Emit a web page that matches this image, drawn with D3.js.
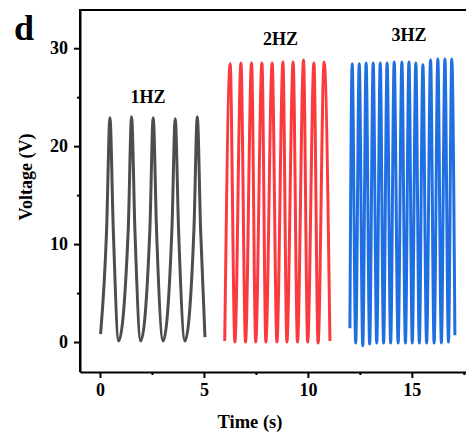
<!DOCTYPE html>
<html>
<head>
<meta charset="utf-8">
<script src="https://cdn.jsdelivr.net/npm/d3@7"></script>
<style>
  html, body { margin: 0; padding: 0; background: #fff; }
  svg { display: block; }
  text { font-family: "Liberation Serif", "Times New Roman", serif; font-weight: bold; fill: #000; }
</style>
</head>
<body>
<svg id="chart" width="466" height="437"></svg>
<script>
// points: extrema plus mid-height crossings (time in s, voltage in V)
const t1 = [0.03, 0.32, 0.48, 0.64, 0.90, 1.36, 1.52, 1.68, 1.96, 2.40, 2.56, 2.72, 3.04, 3.46, 3.62, 3.78, 4.09, 4.52, 4.68, 4.84, 5.05];
const v1 = [0.8, 11.5, 22.9, 11.5, 0.1, 11.5, 23.0, 11.5, 0.1, 11.5, 22.9, 11.5, 0.1, 11.5, 22.8, 11.5, 0.1, 11.5, 23.0, 11.5, 0.5];

const t2 = [6.0, 6.26, 6.49, 6.78, 7.0, 7.29, 7.49, 7.79, 7.98, 8.28, 8.51, 8.80, 8.99, 9.29, 9.50, 9.79, 9.99, 10.29, 10.49, 10.78, 11.06];
const v2 = [0.1, 28.4, 0.0, 28.5, 0.0, 28.5, 0.0, 28.5, 0.0, 28.5, 0.0, 28.6, 0.0, 28.6, 0.0, 28.8, 0.0, 28.5, -0.1, 28.6, 0.1];

const t3 = [12.02, 12.13, 12.30, 12.47, 12.64, 12.80, 12.97, 13.14, 13.31, 13.48, 13.64, 13.81, 13.98, 14.15, 14.34,
            14.52, 14.69, 14.86, 15.02, 15.19, 15.36, 15.53, 15.71, 15.90, 16.07, 16.25, 16.42, 16.59, 16.76, 16.92, 17.07];
const v3 = [1.4, 28.4, -0.1, 28.4, -0.4, 28.5, -0.2, 28.5, -0.1, 28.5, -0.1, 28.5, -0.1, 28.6, -0.1,
            28.6, -0.1, 28.6, -0.1, 28.5, -0.1, 28.3, -0.1, 28.8, -0.1, 28.9, -0.1, 28.9, 0.0, 28.9, 0.7];

const series = [
  {name: '1HZ', t: t1, v: v1, color: '#4d4d4d', labelT: 2.31, labelV: 24.4},
  {name: '2HZ', t: t2, v: v2, color: '#fb3a3e', labelT: 8.68, labelV: 30.3},
  {name: '3HZ', t: t3, v: v3, color: '#1f6fe3', labelT: 14.86, labelV: 30.7}
];

const xTicks = [0, 5, 10, 15];
const xMinor = [2.5, 7.5, 12.5, 17.5];
const yTicks = [0, 10, 20, 30];
const yMinor = [5, 15, 25];

const svg = d3.select('#chart');
const plotLeft = 80, plotRight = 468, plotTop = 10, plotBottom = 372;

const x = d3.scaleLinear().domain([-0.96, 17.7]).range([plotLeft, plotRight]);
const y = d3.scaleLinear().domain([-3.06, 33.9]).range([plotBottom, plotTop]);

// frame
svg.append('path')
  .attr('d', `M${plotLeft},${plotBottom}V${plotTop}H${plotRight}`)
  .attr('fill', 'none').attr('stroke', '#000').attr('stroke-width', 2);

// x axis
const xAxis = svg.append('g')
  .attr('transform', `translate(0,${plotBottom})`)
  .call(d3.axisBottom(x).tickValues(xTicks).tickSize(6).tickSizeOuter(0).tickPadding(5));
xAxis.select('.domain').attr('stroke-width', 2);
xAxis.selectAll('.tick line').attr('stroke-width', 2);
xAxis.selectAll('.tick text').style('font-size', '18px').attr('fill', '#000');
svg.append('g').attr('transform', `translate(0,${plotBottom})`)
  .call(d3.axisBottom(x).tickValues(xMinor).tickSize(3).tickFormat(''))
  .call(g => g.select('.domain').remove())
  .selectAll('.tick line').attr('stroke-width', 2);

// y axis
const yAxis = svg.append('g')
  .attr('transform', `translate(${plotLeft},0)`)
  .call(d3.axisLeft(y).tickValues(yTicks).tickSize(6).tickSizeOuter(0).tickPadding(6));
yAxis.select('.domain').attr('stroke-width', 2);
yAxis.selectAll('.tick line').attr('stroke-width', 2);
yAxis.selectAll('.tick text').style('font-size', '18px').attr('fill', '#000');
svg.append('g').attr('transform', `translate(${plotLeft},0)`)
  .call(d3.axisLeft(y).tickValues(yMinor).tickSize(3).tickFormat(''))
  .call(g => g.select('.domain').remove())
  .selectAll('.tick line').attr('stroke-width', 2);

// curves
const line = d3.line()
  .x(d => x(d[0]))
  .y(d => y(d[1]))
  .curve(d3.curveMonotoneX);

series.forEach(s => {
  svg.append('path')
    .datum(s.t.map((t, i) => [t, s.v[i]]))
    .attr('d', line)
    .attr('fill', 'none')
    .attr('stroke', s.color)
    .attr('stroke-width', 3)
    .attr('stroke-linejoin', 'round');

  svg.append('text')
    .attr('x', x(s.labelT))
    .attr('y', y(s.labelV))
    .attr('text-anchor', 'middle')
    .style('font-size', '18px')
    .text(s.name);
});

// axis titles
svg.append('text')
  .attr('x', 250).attr('y', 428)
  .attr('text-anchor', 'middle')
  .style('font-size', '18.5px')
  .text('Time (s)');

svg.append('text')
  .attr('transform', 'translate(32,177) rotate(-90)')
  .attr('text-anchor', 'middle')
  .style('font-size', '18px')
  .text('Voltage (V)');

// panel letter
svg.append('text')
  .attr('x', 14).attr('y', 40)
  .style('font-size', '36px')
  .text('d');
</script>
</body>
</html>
